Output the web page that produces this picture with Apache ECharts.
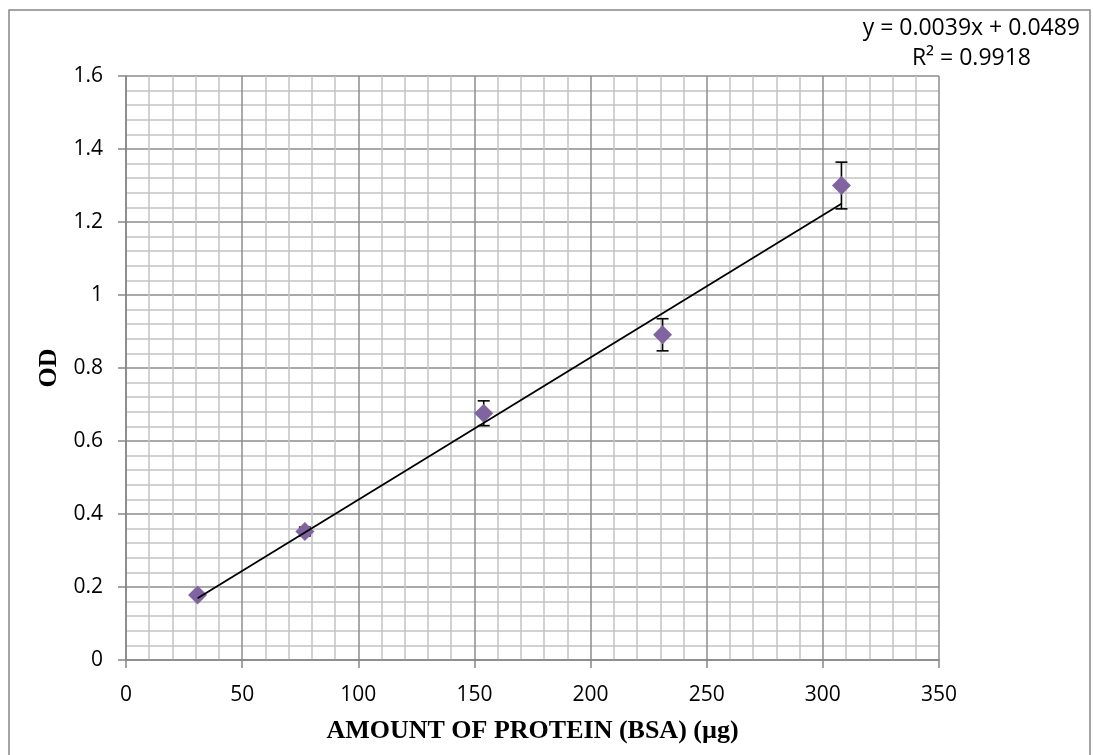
<!DOCTYPE html>
<html>
<head>
<meta charset="utf-8">
<script src="https://cdn.jsdelivr.net/npm/echarts@6/dist/echarts.min.js"></script>
<style>
  html, body { margin: 0; padding: 0; background: #fff; }
  #chart { width: 1093px; height: 755px; }
</style>
</head>
<body>
<div id="chart"></div>
<script>
// BSA standard curve
const proteinUg = [30.8, 77, 154, 231, 308]
const odMean = [0.178, 0.352, 0.676, 0.891, 1.300]
const odErr = [0.006, 0.012, 0.034, 0.044, 0.064]
// trendline end points
const trendX = [30.8, 308]
const trendY = [0.169, 1.250]
const equationText = 'y = 0.0039x + 0.0489'
const r2Text = 'R² = 0.9918'

const myChart = echarts.init(document.getElementById('chart'))

const axisGrey = '#868686'
const labelFont = '"Open Sans", sans-serif'
const titleFont = '"Liberation Serif", "Times New Roman", serif'

const option = {
  animation: false,
  backgroundColor: '#fff',
  grid: { left: 126, right: 154, top: 76, bottom: 95, outerBoundsMode: 'none' },
  graphic: [
    {
      type: 'rect',
      shape: { x: 9, y: 10, width: 1081, height: 760 },
      style: { fill: 'none', stroke: axisGrey, lineWidth: 1.5 },
      silent: true
    },
    {
      type: 'text',
      right: 13,
      top: 17,
      style: { text: equationText, font: '23px ' + labelFont, fill: '#000' }
    },
    {
      type: 'text',
      right: 62,
      top: 47,
      style: { text: r2Text, font: '23px ' + labelFont, fill: '#000' }
    }
  ],
  xAxis: {
    type: 'value',
    min: 0,
    max: 350,
    interval: 50,
    name: 'AMOUNT OF PROTEIN (BSA) (µg)',
    nameLocation: 'middle',
    nameGap: 58,
    nameTextStyle: { fontFamily: titleFont, fontWeight: 'bold', fontSize: 26, color: '#000' },
    axisLine: { show: true, lineStyle: { color: axisGrey, width: 1.5 } },
    axisTick: { show: true, length: 8, lineStyle: { color: axisGrey, width: 1.5 } },
    axisLabel: { fontFamily: labelFont, fontSize: 21, color: '#000', margin: 25 },
    splitLine: { show: true, lineStyle: { color: '#8c8c8c', width: 1.5 } },
    minorTick: { show: false, splitNumber: 5 },
    minorSplitLine: { show: true, lineStyle: { color: '#c4c4c4', width: 1.5 } }
  },
  yAxis: {
    type: 'value',
    min: 0,
    max: 1.6,
    interval: 0.2,
    name: 'OD',
    nameLocation: 'middle',
    nameGap: 54,
    nameTextStyle: { fontFamily: titleFont, fontWeight: 'bold', fontSize: 26, color: '#000' },
    axisLine: { show: true, lineStyle: { color: axisGrey, width: 1.5 } },
    axisTick: { show: true, length: 8, lineStyle: { color: axisGrey, width: 1.5 } },
    axisLabel: { fontFamily: labelFont, fontSize: 21, color: '#000', margin: 23 },
    splitLine: { show: true, lineStyle: { color: '#8c8c8c', width: 1.5 } },
    minorTick: { show: false, splitNumber: 5 },
    minorSplitLine: { show: true, lineStyle: { color: '#c4c4c4', width: 1.5 } }
  },
  series: [
    {
      // error bars, behind the markers
      type: 'custom',
      z: 2,
      data: proteinUg.map((x, i) => [x, odMean[i] - odErr[i], odMean[i] + odErr[i]]),
      renderItem: (params, api) => {
        const lo = api.coord([api.value(0), api.value(1)])
        const hi = api.coord([api.value(0), api.value(2)])
        const cap = 6
        const style = { stroke: '#000', lineWidth: 1.6 }
        return {
          type: 'group',
          children: [
            { type: 'line', shape: { x1: lo[0], y1: lo[1], x2: hi[0], y2: hi[1] }, style },
            { type: 'line', shape: { x1: lo[0] - cap, y1: lo[1], x2: lo[0] + cap, y2: lo[1] }, style },
            { type: 'line', shape: { x1: hi[0] - cap, y1: hi[1], x2: hi[0] + cap, y2: hi[1] }, style }
          ]
        }
      }
    },
    {
      type: 'scatter',
      z: 3,
      symbol: 'diamond',
      symbolSize: 19,
      itemStyle: { color: '#8064A2', opacity: 1 },
      data: proteinUg.map((x, i) => [x, odMean[i]])
    },
    {
      // linear trendline
      type: 'line',
      z: 4,
      symbol: 'none',
      lineStyle: { color: '#000', width: 1.8 },
      data: trendX.map((x, i) => [x, trendY[i]])
    }
  ]
}

myChart.setOption(option)
</script>
</body>
</html>
